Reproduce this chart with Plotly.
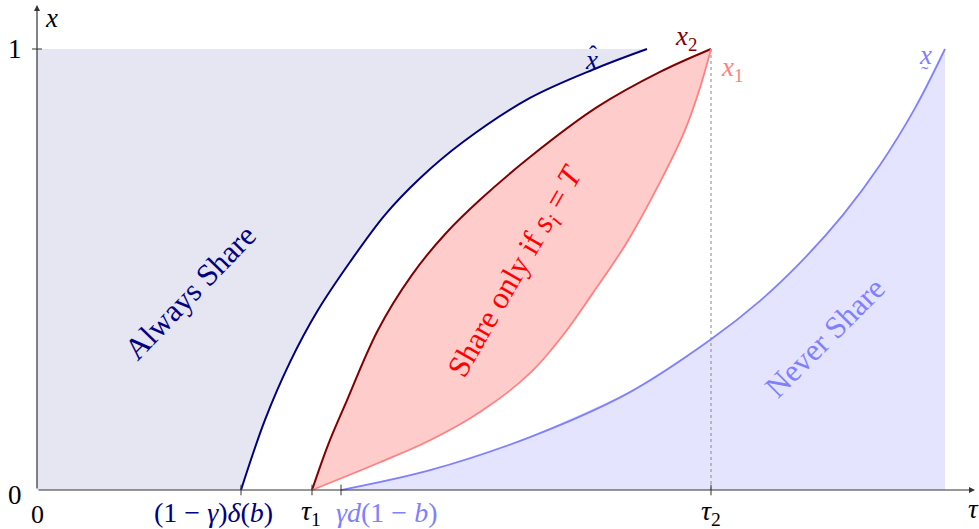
import plotly.graph_objects as go

# curve x-hat (always share boundary)
tau_hat = [2.04, 2.28, 2.53, 2.81, 3.13, 3.48, 3.83, 4.26, 4.93, 5.60, 6.10]
x_hat = [0.0, 0.159, 0.290, 0.408, 0.517, 0.624, 0.707, 0.789, 0.889, 0.957, 1.0]

# curve x2 (upper edge of the "share only if" lens)
tau_x2 = [2.75, 2.91, 3.08, 3.41, 3.75, 4.08, 4.43, 4.93, 5.60, 6.23, 6.74]
x_2 = [0.0, 0.102, 0.193, 0.363, 0.488, 0.580, 0.658, 0.755, 0.868, 0.948, 1.0]

# curve x1 (lower edge of the lens)
tau_x1 = [2.75, 3.43, 3.93, 4.43, 4.93, 5.26, 5.56, 5.90, 6.23, 6.48, 6.63, 6.74]
x_1 = [0.0, 0.063, 0.113, 0.177, 0.265, 0.351, 0.447, 0.562, 0.698, 0.816, 0.912, 1.0]

# curve x-undertilde (never share boundary)
tau_low = [3.04, 3.93, 4.93, 5.93, 6.73, 7.23, 7.63, 8.06, 8.43, 8.78, 9.08]
x_low = [0.0, 0.045, 0.120, 0.222, 0.340, 0.429, 0.515, 0.624, 0.737, 0.866, 1.0]

# special tau values on the axis
tick_vals = [2.04, 2.75, 3.04, 6.74]
tick_text = ["(1 \u2212 <i>\u03b3</i>)<i>\u03b4</i>(<i>b</i>)", "<i>\u03c4</i><sub>1</sub>",
             "<i>\u03b3d</i>(1 \u2212 <i>b</i>)", "<i>\u03c4</i><sub>2</sub>"]
tick_colors = ["#000080", "#000000", "#8080ff", "#000000"]
tick_label_pos = [1.76, 2.74, 3.50, 6.74]
tau2 = 6.74
tau_end = 9.08

NAVY = "#000080"
DARKRED = "#800000"
LIGHTRED = "#ff8080"
LIGHTBLUE = "#8080ff"
FONT = "Liberation Serif"

fig = go.Figure()

# always share region
fig.add_trace(go.Scatter(
    x=[0] + tau_hat + [0], y=[0] + x_hat + [1],
    fill="toself", fillcolor="rgb(230,230,242)", mode="none", hoverinfo="skip"))

# never share region
fig.add_trace(go.Scatter(
    x=tau_low + [tau_end, tau_low[0]], y=x_low + [0, 0],
    fill="toself", fillcolor="rgb(228,228,254)", mode="none", hoverinfo="skip"))

# share only if s_i = T region
fig.add_trace(go.Scatter(
    x=tau_x1 + tau_x2[::-1], y=x_1 + x_2[::-1],
    fill="toself", fillcolor="rgb(255,204,204)", mode="none", hoverinfo="skip"))

# dotted line at tau2
fig.add_trace(go.Scatter(
    x=[tau2, tau2], y=[0, 1], mode="lines",
    line=dict(color="#888888", width=1, dash="dot"), hoverinfo="skip"))

# curves
for xs, ys, col, w in [(tau_hat, x_hat, NAVY, 2), (tau_x2, x_2, DARKRED, 2),
                       (tau_x1, x_1, LIGHTRED, 1.8), (tau_low, x_low, LIGHTBLUE, 1.8)]:
    fig.add_trace(go.Scatter(x=xs, y=ys, mode="lines",
                             line=dict(color=col, width=w, shape="spline", smoothing=1.0),
                             hoverinfo="skip"))

# axes with arrows
fig.add_annotation(x=9.38, y=0, ax=0, ay=0, xref="x", yref="y", axref="x", ayref="y",
                   text="", showarrow=True, arrowhead=2, arrowsize=1, arrowwidth=1.2,
                   arrowcolor="#333333")
fig.add_annotation(x=0, y=1.10, ax=0, ay=0, xref="x", yref="y", axref="x", ayref="y",
                   text="", showarrow=True, arrowhead=2, arrowsize=1, arrowwidth=1.2,
                   arrowcolor="#333333")

# tick marks
for t in tick_vals:
    fig.add_shape(type="line", x0=t, x1=t, y0=-0.012, y1=0.012,
                  line=dict(color="#333333", width=1))
fig.add_shape(type="line", x0=-0.05, x1=0.05, y0=1, y1=1,
              line=dict(color="#333333", width=1))


def label(x, y, text, color="#000000", size=27, angle=0):
    fig.add_annotation(x=x, y=y, xref="x", yref="y", text=text, showarrow=False,
                       textangle=angle, font=dict(family=FONT, size=size, color=color))


# tick labels
for pos, txt, col in zip(tick_label_pos, tick_text, tick_colors):
    label(pos, -0.052, txt, col, 28)

label(-0.22, 1.0, "1")
label(-0.22, -0.012, "0")
label(0.0, -0.055, "0", size=26)
label(0.14, 1.07, "<i>x</i>")
label(9.36, -0.042, "<i>\u03c4</i>")

# curve labels (accents placed as separate glyphs)
label(5.54, 0.975, "<i>x</i>", NAVY)
label(5.56, 0.988, "\u02c6", NAVY, 24)
label(6.49, 1.025, "<i>x</i><sub>2</sub>", DARKRED)
label(6.95, 0.955, "<i>x</i><sub>1</sub>", LIGHTRED)
label(8.88, 0.986, "<i>x</i>", LIGHTBLUE)
label(8.88, 0.944, "\u02dc", LIGHTBLUE, 22)

# region labels
label(1.53, 0.447, "Always Share", NAVY, 31, -46)
label(4.80, 0.494, "Share only if <i>s<sub>i</sub></i> = <i>T</i>", "#ff0000", 31, -60)
label(7.88, 0.345, "Never Share", LIGHTBLUE, 31, -45)

fig.update_layout(
    width=979, height=529,
    margin=dict(l=0, r=0, t=0, b=0),
    plot_bgcolor="white", paper_bgcolor="white",
    font=dict(family=FONT),
    showlegend=False,
    xaxis=dict(range=[-0.37, 9.42], visible=False, fixedrange=True),
    yaxis=dict(range=[-0.0884, 1.1111], visible=False, fixedrange=True),
)

fig.write_html("out.html", config={"displayModeBar": False},
               post_script="document.body.style.margin='0px';")
